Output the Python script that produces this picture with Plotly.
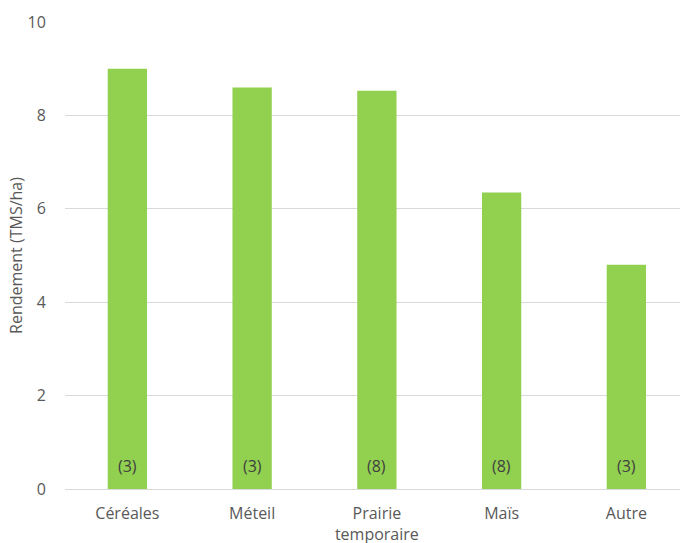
import plotly.graph_objects as go

# Yield by crop type (TMS/ha) and number of plots per group
categories = ["Céréales", "Méteil", "Prairie<br>temporaire", "Maïs", "Autre"]
rendement = [9.0, 8.6, 8.53, 6.35, 4.8]
effectifs = [3, 3, 8, 8, 3]

FONT = "Open Sans"
BAR_COLOR = "#92D050"
GRID_COLOR = "#D9D9D9"
TEXT_COLOR = "#595959"
SIZE = 16

fig = go.Figure()
fig.add_trace(go.Bar(
    x=list(range(len(categories))),
    y=rendement,
    width=0.315,
    marker=dict(color=BAR_COLOR, line=dict(width=0)),
    hoverinfo="skip",
))

# Group sizes written near the base of each bar
for i, n in enumerate(effectifs):
    fig.add_annotation(
        x=i, y=0.5, text=f"({n})", showarrow=False,
        font=dict(family=FONT, size=SIZE, color="#404040"),
        xanchor="center", yanchor="middle",
    )

fig.update_layout(
    width=680, height=543,
    margin=dict(l=65, r=0, t=22, b=54),
    paper_bgcolor="white", plot_bgcolor="white",
    showlegend=False,
    font=dict(family=FONT, size=SIZE, color=TEXT_COLOR),
    xaxis=dict(
        tickmode="array",
        tickvals=list(range(len(categories))),
        ticktext=categories,
        range=[-0.5, 4.43],
        showgrid=False, zeroline=False, showline=False,
        ticks="outside", ticklen=10, tickcolor="rgba(0,0,0,0)",
        tickfont=dict(family=FONT, size=SIZE, color=TEXT_COLOR),
        automargin=False,
    ),
    yaxis=dict(
        range=[0, 10],
        dtick=2,
        showgrid=True, gridcolor=GRID_COLOR, gridwidth=1,
        zeroline=True, zerolinecolor=GRID_COLOR, zerolinewidth=1,
        showline=False,
        ticks="outside", ticklen=15, tickcolor="rgba(0,0,0,0)",
        tickfont=dict(family=FONT, size=SIZE, color=TEXT_COLOR),
        title=dict(text="Rendement (TMS/ha)", standoff=0,
                   font=dict(family=FONT, size=SIZE, color=TEXT_COLOR)),
        automargin=False,
    ),
)

fig.write_html("out.html")
